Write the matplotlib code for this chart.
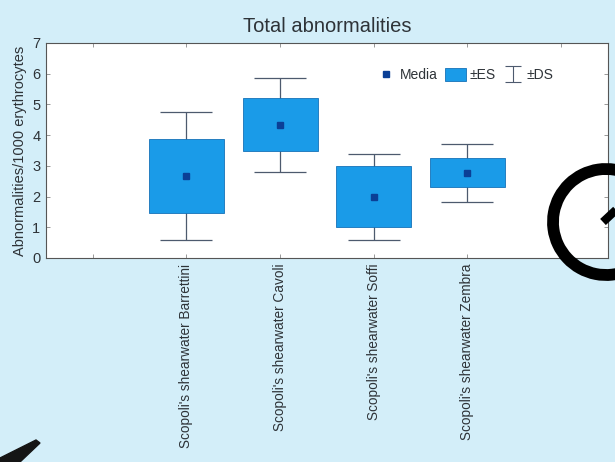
import numpy as np
import matplotlib
matplotlib.use('Agg')
import matplotlib.pyplot as plt
from matplotlib.lines import Line2D
from matplotlib.path import Path
from matplotlib.patches import Arc, Polygon

plt.rcParams['font.family'] = ['Liberation Sans', 'DejaVu Sans']

groups = ["Scopoli's shearwater Barrettini", "Scopoli's shearwater Cavoli",
          "Scopoli's shearwater Soffi", "Scopoli's shearwater Zembra"]
media = [2.68, 4.34, 2.00, 2.77]
es = [1.20, 0.87, 1.00, 0.47]
ds = [2.08, 1.53, 1.40, 0.94]

bg = '#d3eef9'
box_col = '#1a9be8'
mean_col = '#0b3f96'
line_col = '#4d5a6e'
txt = '#2e3338'

fig = plt.figure(figsize=(6.15, 4.62), dpi=100, facecolor=bg)
ax = fig.add_axes([0.0748, 0.4416, 0.9138, 0.4654])

x = np.arange(2, 2 + len(groups))
low = np.array(media) - np.array(es)

ax.errorbar(x, media, yerr=ds, fmt='none', ecolor=line_col, elinewidth=0.9,
            capsize=18.5, capthick=0.9, zorder=1)
bars = ax.bar(x, 2 * np.array(es), bottom=low, width=0.8, color=box_col,
              edgecolor='#1572b8', linewidth=0.6, zorder=2, label='±ES')
mline, = ax.plot(x, media, 's', color=mean_col, ms=5, zorder=3, label='Media')

# legend symbol for the whiskers
ibeam = Path([(-1, 1), (1, 1), (0, 1), (0, -1), (-1, -1), (1, -1)],
             [Path.MOVETO, Path.LINETO, Path.MOVETO, Path.LINETO, Path.MOVETO, Path.LINETO])
ds_proxy = Line2D([], [], marker=ibeam, ms=12, mew=0.8, color=line_col,
                  linestyle='none', label='±DS')

ax.legend(handles=[mline, bars, ds_proxy], ncol=3, frameon=False,
          loc='center right', bbox_to_anchor=(0.92, 0.851), fontsize=10,
          handlelength=1.5, handleheight=1.1, handletextpad=0.25,
          columnspacing=0.5, borderpad=0.2, labelcolor=txt)

ax.set_xlim(0.5, 6.5)
ax.set_ylim(0, 7)
ax.set_xticks(np.arange(1, 7))
ax.set_xticklabels([''] + groups + [''], rotation=90, fontsize=9.8, color=txt)
ax.set_yticks(np.arange(0, 8))
ax.tick_params(axis='y', labelsize=10.5, labelcolor=txt)
ax.tick_params(direction='in', top=True, right=True, length=3, width=0.6,
               color='#888888', pad=4)
for s in ax.spines.values():
    s.set_color('#555555')
    s.set_linewidth(0.8)

ax.set_title('Total abnormalities', fontsize=14.5, color=txt, pad=8)
ax.set_ylabel('Abnormalities/1000 erythrocytes', fontsize=10.5, color=txt, labelpad=4)

# scan artifacts (pixel coordinates, origin bottom-left)
fig.add_artist(Arc((606, 240), 106, 106, theta1=45, theta2=330, color='black',
                   lw=8.5, transform=None, clip_on=False))
fig.add_artist(Line2D([603, 618], [240, 254], color='black', lw=6,
                      transform=None, solid_capstyle='butt'))
fig.add_artist(Polygon([(0, 4), (36, 22), (40, 19), (20, 0), (0, 0)], closed=True,
                       color='#151515', transform=None))

fig.savefig('out.png', dpi=100, facecolor=bg)
